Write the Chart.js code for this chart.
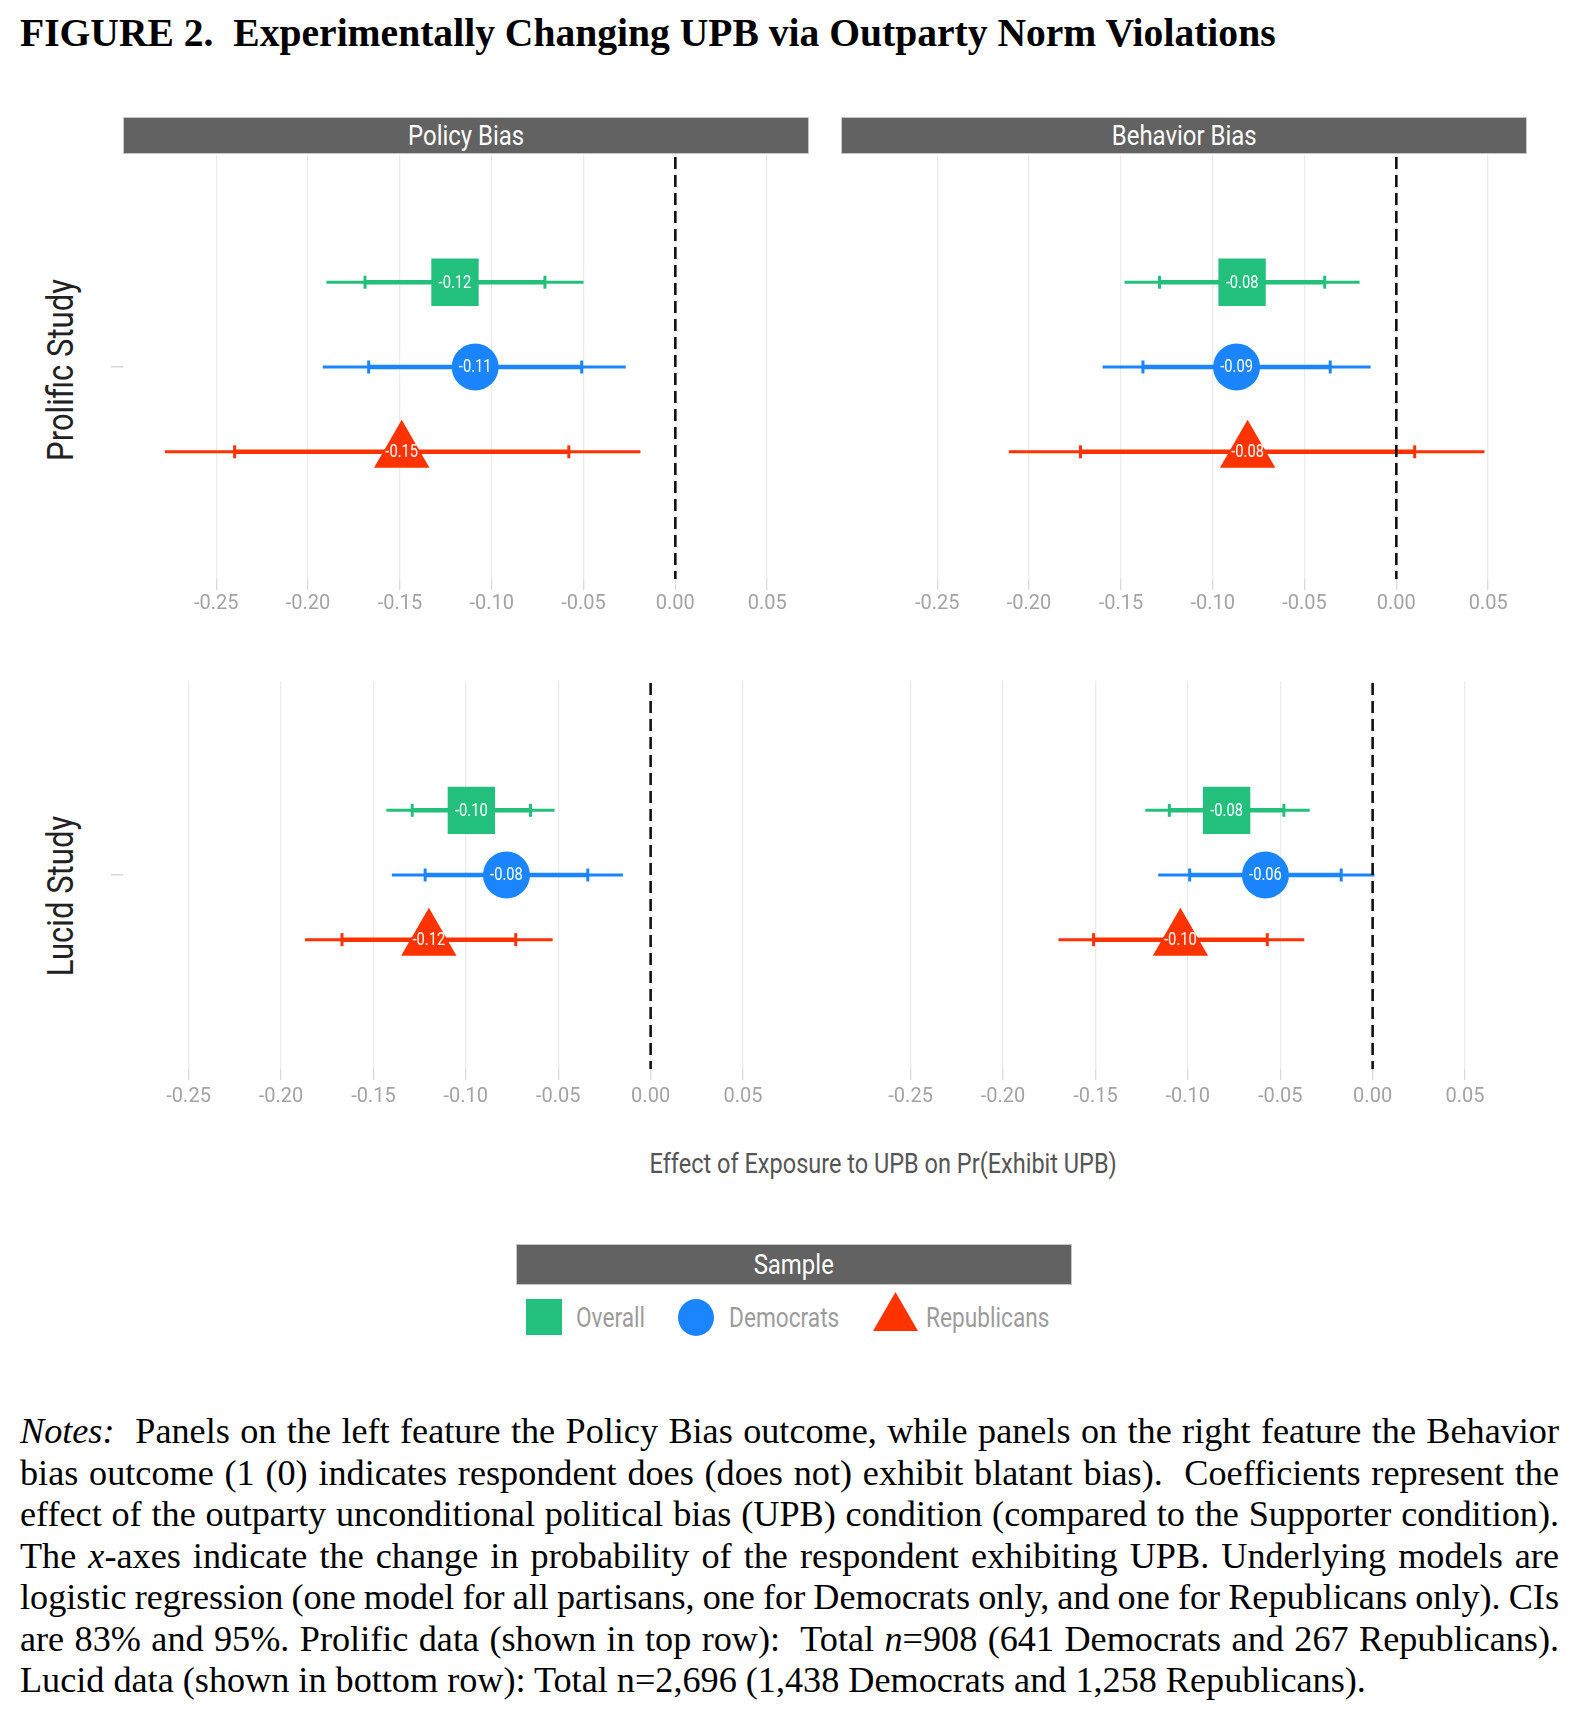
<!DOCTYPE html>
<html>
<head>
<meta charset="utf-8">
<script src="https://cdn.jsdelivr.net/npm/chart.js@4.4.1/dist/chart.umd.min.js"></script>
<style>
  html, body { margin: 0; padding: 0; background: #fff; }
  #page { position: relative; width: 1592px; height: 1724px; overflow: hidden; background: #fff;
          font-family: 'Roboto', 'Liberation Sans', sans-serif; }
  .abs { position: absolute; }
  .cond { display: inline-block; transform: scaleX(0.84); transform-origin: 50% 50%; white-space: nowrap; }
  .strip { position: absolute; background: #626262; border: 1px solid #c6c6c6; box-sizing: border-box;
           color: #fff; text-align: center; font-size: 28.5px; }
  .title { position: absolute; left: 20px; top: 11px; font-family: 'Liberation Serif', 'Times New Roman', serif;
           font-weight: bold; font-size: 39.6px; line-height: 45px; white-space: nowrap; color: #000; }
  .ytitle { position: absolute; width: 400px; height: 44px; line-height: 44px; text-align: center;
            font-size: 37px; color: #222; transform: rotate(-90deg) scaleX(0.84); transform-origin: 50% 50%; white-space: nowrap; }
  .xtitle { position: absolute; left: 483px; width: 800px; top: 1147px; line-height: 34px; text-align: center;
            font-size: 28px; color: #555; white-space: nowrap; }
  .legtext { position: absolute; top: 1302px; line-height: 32px; font-size: 27px; color: #9c9c9c; white-space: nowrap;
             transform: scaleX(0.84); transform-origin: 0 50%; }
  .notes { position: absolute; left: 20px; top: 1411px; width: 1539px; font-family: 'Liberation Serif', 'Times New Roman', serif;
           font-size: 36.2px; line-height: 41.53px; color: #000; }
  .notes div { text-align: justify; text-align-last: justify; word-spacing: -5px; white-space: normal; }
  .notes div.last { text-align-last: left; word-spacing: 0; }
</style>
</head>
<body>
<div id="page">
  <div class="title">FIGURE 2.&nbsp; Experimentally Changing UPB via Outparty Norm Violations</div>

  <div class="strip" style="left:123px; top:117px; width:686px; height:37px; line-height:35px;"><span class="cond" id="stripTL"></span></div>
  <div class="strip" style="left:841px; top:117px; width:686px; height:37px; line-height:35px;"><span class="cond" id="stripTR"></span></div>

  <div class="ytitle" id="ytitleTop" style="left:-139px; top:348px;"></div>
  <div class="ytitle" id="ytitleBottom" style="left:-139px; top:874px;"></div>

  <div class="abs" style="left:111px; top:155px;"><canvas id="cTL" width="698" height="469"></canvas></div>
  <div class="abs" style="left:844px; top:155px;"><canvas id="cTR" width="686" height="469"></canvas></div>
  <div class="abs" style="left:111px; top:681px;"><canvas id="cBL" width="698" height="433"></canvas></div>
  <div class="abs" style="left:845px; top:681px;"><canvas id="cBR" width="686" height="433"></canvas></div>

  <div class="xtitle"><span class="cond" id="xtitle"></span></div>

  <div class="strip" style="left:516px; top:1244px; width:556px; height:41px; line-height:39px;"><span class="cond" id="legendTitle"></span></div>
  <div class="abs" id="legSym0" style="left:526px; top:1299px; width:36px; height:36px;"></div>
  <div class="abs" id="legSym1" style="left:678px; top:1299px; width:36px; height:37px; border-radius:50%;"></div>
  <div class="abs" id="legSym2" style="left:873px; top:1292px; width:45px; height:39px; clip-path:polygon(50% 0, 100% 100%, 0 100%);"></div>
  <div class="legtext" id="legTxt0" style="left:576px;"></div>
  <div class="legtext" id="legTxt1" style="left:729px;"></div>
  <div class="legtext" id="legTxt2" style="left:926px;"></div>

  <div class="notes">
    <div><i>Notes:</i>&nbsp; Panels on the left feature the Policy Bias outcome, while panels on the right feature the Behavior</div>
    <div>bias outcome (1 (0) indicates respondent does (does not) exhibit blatant bias).&nbsp; Coefficients represent the</div>
    <div>effect of the outparty unconditional political bias (UPB) condition (compared to the Supporter condition).</div>
    <div>The <i>x</i>-axes indicate the change in probability of the respondent exhibiting UPB. Underlying models are</div>
    <div>logistic regression (one model for all partisans, one for Democrats only, and one for Republicans only). CIs</div>
    <div>are 83% and 95%. Prolific data (shown in top row):&nbsp; Total <i>n</i>=908 (641 Democrats and 267 Republicans).</div>
    <div class="last">Lucid data (shown in bottom row): Total n=2,696 (1,438 Democrats and 1,258 Republicans).</div>
  </div>
</div>

<script>
// ---------------- DATA ----------------
const groups = ["Overall", "Democrats", "Republicans"];
const groupRows = [1, 0, -1];
const outcomes = ["Policy Bias", "Behavior Bias"];
const studies = ["Prolific Study", "Lucid Study"];
const legendTitle = "Sample";
const xAxisTitle = "Effect of Exposure to UPB on Pr(Exhibit UPB)";
const xTickValues = [-0.25, -0.20, -0.15, -0.10, -0.05, 0.00, 0.05];

// Prolific study, Policy Bias
const prolificPolicyEst  = [-0.120, -0.109, -0.149];
const prolificPolicyLo95 = [-0.190, -0.192, -0.278];
const prolificPolicyLo83 = [-0.169, -0.167, -0.240];
const prolificPolicyHi83 = [-0.071, -0.051, -0.058];
const prolificPolicyHi95 = [-0.050, -0.027, -0.019];

// Prolific study, Behavior Bias
const prolificBehaviorEst  = [-0.084, -0.087, -0.081];
const prolificBehaviorLo95 = [-0.148, -0.160, -0.211];
const prolificBehaviorLo83 = [-0.129, -0.138, -0.172];
const prolificBehaviorHi83 = [-0.039, -0.036,  0.010];
const prolificBehaviorHi95 = [-0.020, -0.014,  0.048];

// Lucid study, Policy Bias
const lucidPolicyEst  = [-0.097, -0.078, -0.120];
const lucidPolicyLo95 = [-0.143, -0.140, -0.187];
const lucidPolicyLo83 = [-0.129, -0.122, -0.167];
const lucidPolicyHi83 = [-0.065, -0.034, -0.073];
const lucidPolicyHi95 = [-0.052, -0.015, -0.053];

// Lucid study, Behavior Bias
const lucidBehaviorEst  = [-0.079, -0.058, -0.104];
const lucidBehaviorLo95 = [-0.123, -0.116, -0.170];
const lucidBehaviorLo83 = [-0.110, -0.099, -0.151];
const lucidBehaviorHi83 = [-0.048, -0.017, -0.057];
const lucidBehaviorHi95 = [-0.034,  0.001, -0.037];

// ---------------- STYLE ----------------
const groupColors = ["#23C07D", "#1A85FF", "#FF3300"];
const markerStyles = ["rect", "circle", "triangle"];
const markerRadii = [33.5, 23.5, 32];
const FONT = "Roboto, 'Liberation Sans', sans-serif";

// ---------------- TEXT ----------------
document.getElementById('stripTL').textContent = outcomes[0];
document.getElementById('stripTR').textContent = outcomes[1];
document.getElementById('ytitleTop').textContent = studies[0];
document.getElementById('ytitleBottom').textContent = studies[1];
document.getElementById('xtitle').textContent = xAxisTitle;
document.getElementById('legendTitle').textContent = legendTitle;
groups.forEach((g, i) => {
  document.getElementById('legTxt' + i).textContent = g;
  document.getElementById('legSym' + i).style.background = groupColors[i];
});

// ---------------- PLUGIN ----------------
const overlayPlugin = {
  id: 'overlay',
  afterDatasetsDraw(chart) {
    const ctx = chart.ctx, area = chart.chartArea, xs = chart.scales.x;
    const x0 = xs.getPixelForValue(0);
    ctx.save();
    ctx.strokeStyle = '#111';
    ctx.lineWidth = 2.6;
    ctx.setLineDash([12, 6]);
    ctx.beginPath();
    ctx.moveTo(x0, area.top + 2);
    ctx.lineTo(x0, area.bottom);
    ctx.stroke();
    ctx.restore();

    chart.data.datasets.forEach((d, di) => {
      if (!d.isMarker) return;
      const meta = chart.getDatasetMeta(di);
      meta.data.forEach((el, j) => {
        ctx.save();
        ctx.fillStyle = '#ffffff';
        ctx.font = '17.5px ' + FONT;
        ctx.textAlign = 'center';
        ctx.textBaseline = 'middle';
        ctx.translate(el.x, el.y + 1);
        ctx.scale(0.84, 1);
        ctx.fillText(d.data[j].x.toFixed(2), 0, 0);
        ctx.restore();
      });
    });
  }
};

function buildDatasets(est, lo95, lo83, hi83, hi95) {
  const ds = [];
  groups.forEach((g, i) => {
    const y = groupRows[i], c = groupColors[i];
    ds.push({
      label: g + ' 95% CI', data: [{x: lo95[i], y}, {x: hi95[i], y}],
      showLine: true, borderColor: c, borderWidth: 3, pointRadius: 0, order: 3
    });
    ds.push({
      label: g + ' 83% CI', data: [{x: lo83[i], y}, {x: hi83[i], y}],
      showLine: true, borderColor: c, borderWidth: 4.5,
      pointStyle: 'line', pointRotation: 90, pointRadius: 6.5,
      pointBorderColor: c, pointBackgroundColor: c, pointBorderWidth: 3, order: 2
    });
    ds.push({
      label: g, data: [{x: est[i], y}], showLine: false, isMarker: true,
      pointStyle: markerStyles[i], pointRadius: markerRadii[i],
      pointBackgroundColor: c, pointBorderWidth: 0, pointBorderColor: c, order: 1
    });
  });
  return ds;
}

function makePanel(id, datasets, xMin, xMax, yHalf, showY, tickPad) {
  new Chart(document.getElementById(id), {
    type: 'scatter',
    data: { datasets },
    options: {
      responsive: false, maintainAspectRatio: false, animation: false, events: [],
      layout: { padding: 0, autoPadding: false },
      plugins: { legend: { display: false }, tooltip: { enabled: false } },
      scales: {
        x: {
          type: 'linear', min: xMin, max: xMax, bounds: 'data',
          afterBuildTicks: s => { s.ticks = xTickValues.map(v => ({ value: v })); },
          afterFit: s => { s.height = 45; },
          ticks: {
            autoSkip: false, maxRotation: 0, minRotation: 0, padding: tickPad,
            color: '#a3a3a3', font: { family: FONT, size: 20 },
            callback: v => Number(v).toFixed(2)
          },
          grid: { color: '#ebebeb', lineWidth: 1.3, tickLength: 11, tickColor: '#dadada', drawTicks: true },
          border: { display: false }
        },
        y: {
          type: 'linear', min: -yHalf, max: yHalf, display: showY, bounds: 'data',
          afterBuildTicks: s => { s.ticks = [{ value: 0 }]; },
          afterFit: s => { s.width = showY ? 12 : 0; },
          ticks: { display: false },
          grid: { drawOnChartArea: false, drawTicks: true, tickLength: 12, tickColor: '#d6d6d6', lineWidth: 1.5 },
          border: { display: false }
        }
      }
    },
    plugins: [overlayPlugin]
  });
}

makePanel('cTL', buildDatasets(prolificPolicyEst, prolificPolicyLo95, prolificPolicyLo83, prolificPolicyHi83, prolificPolicyHi95),
          -0.3008, 0.0728, 2.5, true, 2);
makePanel('cTR', buildDatasets(prolificBehaviorEst, prolificBehaviorLo95, prolificBehaviorLo83, prolificBehaviorHi83, prolificBehaviorHi95),
          -0.3008, 0.0728, 2.5, false, 2);
makePanel('cBL', buildDatasets(lucidPolicyEst, lucidPolicyLo95, lucidPolicyLo83, lucidPolicyHi83, lucidPolicyHi95),
          -0.2855, 0.0857, 3.0, true, 5);
makePanel('cBR', buildDatasets(lucidBehaviorEst, lucidBehaviorLo95, lucidBehaviorLo83, lucidBehaviorHi83, lucidBehaviorHi95),
          -0.2855, 0.0857, 3.0, false, 5);
</script>
</body>
</html>
